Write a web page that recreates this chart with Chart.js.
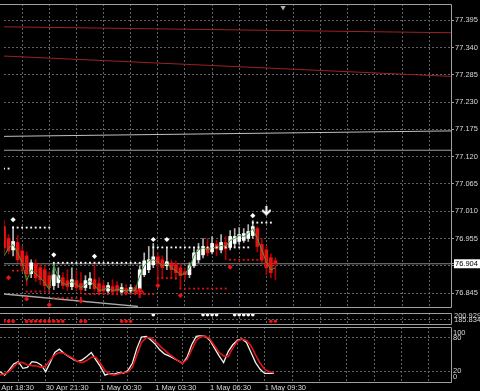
<!DOCTYPE html>
<html>
<head>
<meta charset="utf-8">
<script src="https://cdn.jsdelivr.net/npm/chart.js@4.4.1/dist/chart.umd.min.js"></script>
<style>
  html, body { margin: 0; padding: 0; background: #000; width: 480px; height: 391px; overflow: hidden; }
  canvas { position: absolute; left: 0; }
  #mainChart { top: 0; }
  #dotsChart { top: 309px; }
  #stochChart { top: 326px; }
</style>
</head>
<body>
<canvas id="mainChart" width="480" height="311"></canvas>
<canvas id="dotsChart" width="480" height="19"></canvas>
<canvas id="stochChart" width="480" height="65"></canvas>
<script>
// M15 bars, bar 0 = 30 Apr 18:30; first visible bar is bar 2
const firstBar = 2;
const opens = [
  76.979, 76.955, 76.932, 76.947, 76.930, 76.920, 76.884, 76.904, 76.896, 76.892,
  76.880, 76.860, 76.866, 76.876, 76.870, 76.858, 76.870, 76.864, 76.856, 76.862,
  76.872, 76.864, 76.860, 76.849, 76.858, 76.860, 76.847, 76.854, 76.849, 76.856,
  76.854, 76.882, 76.892, 76.902, 76.918, 76.912, 76.900, 76.906, 76.902, 76.896,
  76.888, 76.882, 76.900, 76.912, 76.922, 76.937, 76.928, 76.943, 76.932, 76.947,
  76.937, 76.945, 76.949, 76.951, 76.955, 76.961, 76.975, 76.943, 76.932, 76.916,
  76.910
];
const highs = [
  76.991, 76.963, 76.979, 76.961, 76.939, 76.928, 76.912, 76.912, 76.904, 76.900,
  76.888, 76.904, 76.896, 76.886, 76.892, 76.896, 76.890, 76.886, 76.880, 76.886,
  76.902, 76.876, 76.870, 76.866, 76.872, 76.868, 76.864, 76.862, 76.862, 76.860,
  76.900, 76.926, 76.939, 76.945, 76.926, 76.920, 76.936, 76.912, 76.910, 76.904,
  76.896, 76.906, 76.936, 76.945, 76.955, 76.955, 76.959, 76.951, 76.963, 76.959,
  76.971, 76.975, 76.977, 76.975, 76.983, 76.991, 76.979, 76.955, 76.939, 76.924,
  76.916
];
const lows = [
  76.926, 76.924, 76.920, 76.906, 76.892, 76.860, 76.876, 76.868, 76.862, 76.852,
  76.849, 76.852, 76.856, 76.854, 76.850, 76.852, 76.850, 76.845, 76.850, 76.854,
  76.849, 76.841, 76.843, 76.845, 76.841, 76.843, 76.841, 76.841, 76.845, 76.843,
  76.849, 76.878, 76.886, 76.896, 76.866, 76.876, 76.892, 76.876, 76.872, 76.856,
  76.872, 76.876, 76.896, 76.906, 76.916, 76.920, 76.924, 76.920, 76.926, 76.912,
  76.932, 76.939, 76.943, 76.947, 76.949, 76.955, 76.928, 76.906, 76.882, 76.876,
  76.872
];
const closes = [
  76.936, 76.930, 76.949, 76.912, 76.900, 76.884, 76.906, 76.876, 76.872, 76.860,
  76.856, 76.882, 76.880, 76.860, 76.858, 76.872, 76.856, 76.852, 76.870, 76.874,
  76.854, 76.847, 76.849, 76.860, 76.847, 76.849, 76.856, 76.845, 76.856, 76.847,
  76.892, 76.910, 76.912, 76.918, 76.904, 76.896, 76.908, 76.892, 76.886, 76.880,
  76.882, 76.900, 76.926, 76.932, 76.939, 76.926, 76.945, 76.934, 76.947, 76.934,
  76.959, 76.959, 76.963, 76.965, 76.969, 76.979, 76.939, 76.912, 76.896, 76.886,
  76.904
];
const maLine = [
  76.920, 76.936, 76.943, 76.926, 76.906, 76.870, 76.892, 76.884, 76.876, 76.866,
  76.852, 76.902, 76.876, 76.864, 76.862, 76.868, 76.862, 76.856, 76.862, 76.870,
  76.860, 76.850, 76.852, 76.856, 76.850, 76.852, 76.852, 76.849, 76.852, 76.850,
  76.880, 76.900, 76.910, 76.912, 76.908, 76.900, 76.904, 76.896, 76.890, 76.882,
  76.884, 76.896, 76.920, 76.932, 76.936, 76.932, 76.937, 76.936, 76.941, 76.939,
  76.951, 76.955, 76.961, 76.959, 76.965, 76.975, 76.955, 76.932, 76.908, 76.892,
  76.896
];
const stochMain = [
  18.8, 12.6, 21.8, 32.8, 37.1, 24.9, 26.7, 37.1, 35.9, 31.0,
  18.8, 35.3, 53.6, 59.7, 52.4, 46.3, 41.4, 37.1, 40.2, 46.3,
  53.6, 40.2, 28.0, 12.6, 15.7, 14.5, 16.9, 15.7, 20.6, 34.0,
  61.6, 81.7, 83.0, 76.9, 68.9, 58.5, 51.2, 47.5, 43.2, 38.9,
  34.0, 45.1, 67.7, 83.0, 84.2, 83.0, 75.6, 61.6, 47.5, 35.3,
  55.4, 67.7, 75.6, 78.1, 72.0, 53.6, 35.3, 23.0, 15.7, 15.7,
  15.7
];
const stochSignal = [
  12.6, 14.5, 18.8, 28.0, 35.9, 35.3, 31.0, 29.8, 29.2, 26.7,
  29.2, 40.2, 49.3, 53.6, 52.4, 47.5, 43.2, 37.1, 35.3, 38.9,
  45.1, 45.1, 34.0, 20.6, 14.5, 12.6, 14.5, 16.9, 18.1, 26.7,
  49.3, 72.0, 80.5, 80.5, 73.8, 65.8, 58.5, 51.2, 45.1, 38.9,
  34.0, 41.4, 58.5, 75.6, 83.0, 83.0, 78.1, 65.8, 53.6, 47.5,
  46.3, 61.6, 73.8, 78.1, 75.6, 65.8, 49.3, 34.0, 23.0, 18.8,
  16.9
];

// fractal markers [bar, price]
const upFractals = [[4, 76.993], [13, 76.922], [22, 76.919], [35, 76.953], [38, 76.953], [57, 77.001]];
const downFractals = [[3, 76.876], [7, 76.833], [12, 76.821], [19, 76.829], [36, 76.860], [41, 76.840], [52, 76.897]];
const sellSignals = [[60, 77.011]];
const buySignals = [[32, 76.846]];
// dotted levels [fromBar, toBar, price]
const resistLevels = [[2, 3, 77.096], [4, 12, 76.977], [13, 32, 76.906], [35, 56, 76.937], [57, 61, 76.987]];
const supportLevels = [[4, 6, 76.890], [7, 12, 76.848], [13, 19, 76.835], [20, 35, 76.843], [36, 40, 76.875], [41, 51, 76.854], [52, 59, 76.912]];
// long lines [price at left edge, price at right edge]
const slowRedA = [77.382, 77.370];
const slowRedB = [77.323, 77.282];
const slowGrey = [77.161, 77.172];
const levelLine = 77.133;
const trendLine = [[2, 76.843], [31.6, 76.818]];
const bidPrice = 76.904;
const shiftBar = 63.7;

// signal window dots (bars)
const upDots = [35, 46, 47, 48, 49, 53, 54, 55, 56, 57];
const downDots = [2, 3, 4, 7, 8, 9, 10, 11, 12, 13, 14, 15, 19, 20, 28, 29, 30, 61, 62];
const dotsLabels = ['200.929', '185.834'];

const priceTicks = [77.395, 77.340, 77.285, 77.230, 77.175, 77.120, 77.065, 77.010, 76.955, 76.900, 76.845];
const stochLabels = ['100', '80', '20', '0'];
const stochLevels = [80, 20];
const timeTicks = [0, 12, 24, 36, 48, 60];
const timeLabels = ['30 Apr 18:30', '30 Apr 21:30', '1 May 00:30', '1 May 03:30', '1 May 06:30', '1 May 09:30'];

const viewStart = 1.99, viewEnd = 100.83;
const textColor = '#d8d8d8';
const gridColor = '#626262';
const frameColor = '#a0a0a0';
const bullBody = '#ffffff', bullWick = '#b4b4b4';
const bearBody = '#ee1111', bearWick = '#b00000';

Chart.defaults.font.family = 'Liberation Sans';
Chart.defaults.font.size = 7.5;

const paneFrame = {
  id: 'paneFrame',
  afterDraw(chart) {
    const { ctx, chartArea: a } = chart;
    ctx.save();
    ctx.strokeStyle = frameColor;
    ctx.lineWidth = 1;
    ctx.beginPath();
    ctx.moveTo(0, Math.round(a.top) + 0.5);
    ctx.lineTo(Math.round(a.right) + 0.5, Math.round(a.top) + 0.5);
    ctx.lineTo(Math.round(a.right) + 0.5, Math.round(a.bottom) + 0.5);
    ctx.lineTo(0, Math.round(a.bottom) + 0.5);
    ctx.stroke();
    ctx.restore();
  }
};

function gridBars() {
  const out = [];
  for (let v = 0; v <= 96; v += 6) out.push({ value: v });
  return out;
}

function timeAxis(showLabels, h) {
  return {
    type: 'linear', min: viewStart, max: viewEnd, offset: false,
    grid: { color: gridColor, offset: false, drawTicks: false },
    border: { display: false, dash: [2, 2] },
    ticks: {
      display: showLabels, autoSkip: false, maxRotation: 0, minRotation: 0, align: 'start', padding: 1,
      color: textColor,
      callback: v => { const k = timeTicks.indexOf(v); return k < 0 ? '' : timeLabels[k]; }
    },
    afterBuildTicks: s => { s.ticks = gridBars(); },
    afterFit: s => { s.height = h; s.paddingLeft = 0; s.paddingRight = 0; }
  };
}

function sideAxis(extra) {
  return Object.assign({
    position: 'right',
    border: { display: false, dash: [2, 2] },
    afterFit: s => { s.width = 29; s.paddingTop = 0; s.paddingBottom = 0; }
  }, extra);
}

const common = {
  responsive: false, animation: false, devicePixelRatio: 1, events: [],
  plugins: { legend: { display: false }, tooltip: { enabled: false } }
};

function arrowImage(color, down) {
  const c = document.createElement('canvas');
  c.width = 9; c.height = 10;
  const g = c.getContext('2d');
  g.strokeStyle = color; g.lineWidth = 2; g.lineCap = 'square';
  g.beginPath();
  if (down) {
    g.moveTo(4.5, 1); g.lineTo(4.5, 8);
    g.moveTo(1, 5); g.lineTo(4.5, 8.5); g.lineTo(8, 5);
  } else {
    g.moveTo(4.5, 9); g.lineTo(4.5, 2);
    g.moveTo(1, 5); g.lineTo(4.5, 1.5); g.lineTo(8, 5);
  }
  g.stroke();
  return c;
}

function levelPoints(levels) {
  const pts = [];
  levels.forEach(([a, b, p]) => { for (let i = a; i <= b; i++) pts.push({ x: i, y: p }); });
  return pts;
}

const isBull = k => closes[k] >= opens[k];
const barX = k => firstBar + k;
const markerSet = (data, style, color, r, rot) => ({
  type: 'line', showLine: false, order: 0,
  data: data.map(([x, y]) => ({ x, y })),
  pointStyle: style, pointRadius: r, pointRotation: rot || 0,
  pointBackgroundColor: color, pointBorderColor: color, pointBorderWidth: 0
});
const longLine = (pts, color, w) => ({
  type: 'line', order: 5, data: pts.map(([x, y]) => ({ x, y })),
  borderColor: color, borderWidth: w, pointRadius: 0, tension: 0
});

new Chart(document.getElementById('mainChart'), {
  type: 'bar',
  plugins: [paneFrame],
  data: {
    datasets: [
      markerSet(upFractals, 'rectRot', '#ffffff', 2.6),
      markerSet(downFractals, 'rectRot', '#ee1111', 2.6),
      markerSet(sellSignals, arrowImage('#ffffff', true), '#ffffff', 4),
      markerSet(buySignals, arrowImage('#ee1111', false), '#ee1111', 4),
      Object.assign(markerSet([], 'rect', '#ffffff', 1.3), { data: levelPoints(resistLevels) }),
      Object.assign(markerSet([], 'rect', '#ee1111', 1.3), { data: levelPoints(supportLevels) }),
      Object.assign(markerSet([[shiftBar, 77.421]], 'triangle', '#b0b0b0', 3, 180), { clip: false }),
      {
        type: 'line', order: 1, data: maLine.map((v, k) => ({ x: barX(k), y: v })),
        borderColor: '#3f9a3a', borderWidth: 1, pointRadius: 0, tension: 0
      },
      {
        type: 'bar', order: 2, grouped: false, barThickness: 3, minBarLength: 1, borderWidth: 0,
        data: opens.map((o, k) => ({ x: barX(k), y: [o, closes[k]] })),
        backgroundColor: c => isBull(c.dataIndex) ? bullBody : bearBody
      },
      {
        type: 'bar', order: 3, grouped: false, barThickness: 1, borderWidth: 0,
        data: lows.map((l, k) => ({ x: barX(k), y: [l, highs[k]] })),
        backgroundColor: c => isBull(c.dataIndex) ? bullWick : bearWick
      },
      longLine([[viewStart, slowRedA[0]], [viewEnd, slowRedA[1]]], '#9a2222', 1),
      longLine([[viewStart, slowRedB[0]], [viewEnd, slowRedB[1]]], '#9a2222', 1),
      longLine([[viewStart, slowGrey[0]], [viewEnd, slowGrey[1]]], '#c0c0c0', 1),
      longLine([[viewStart, levelLine], [viewEnd, levelLine]], '#9c9c9c', 1.2),
      longLine([[viewStart, bidPrice], [viewEnd, bidPrice]], '#8a8a8a', 1),
      longLine(trendLine, '#a8a8a8', 1.4)
    ]
  },
  options: Object.assign({}, common, {
    layout: { padding: { top: 1, bottom: 1, left: 0, right: 0 } },
    scales: {
      x: timeAxis(false, 0),
      y: sideAxis({
        min: 76.8168, max: 77.4280,
        afterBuildTicks: s => { s.ticks = priceTicks.concat([bidPrice]).map(v => ({ value: v })); },
        grid: {
          color: c => c.tick && c.tick.value === bidPrice ? 'rgba(0,0,0,0)' : gridColor,
          drawTicks: true, tickLength: 3, tickColor: frameColor
        },
        ticks: {
          autoSkip: false, padding: 1,
          color: c => c.tick && c.tick.value === bidPrice ? '#000000' : textColor,
          showLabelBackdrop: c => !!(c.tick && c.tick.value === bidPrice),
          backdropColor: '#ffffff',
          backdropPadding: { left: 1, right: 3, top: 0, bottom: 0 },
          callback: v => v.toFixed(3)
        }
      })
    }
  })
});

new Chart(document.getElementById('dotsChart'), {
  type: 'line',
  plugins: [paneFrame],
  data: {
    datasets: [
      { data: upDots.map(x => ({ x, y: 198.6 })), showLine: false, pointRadius: 1.8, pointBorderWidth: 0, pointBackgroundColor: '#ffffff' },
      { data: downDots.map(x => ({ x, y: 189.7 })), showLine: false, pointRadius: 1.8, pointBorderWidth: 0, pointBackgroundColor: '#ee1111' }
    ]
  },
  options: Object.assign({}, common, {
    layout: { padding: { top: 3, bottom: 3, left: 0, right: 0 } },
    scales: {
      x: timeAxis(false, 0),
      y: sideAxis({
        min: 185.834, max: 200.929,
        afterBuildTicks: s => { s.ticks = [{ value: 197.4 }, { value: 191.6 }]; },
        grid: { color: c => c.index === 1 ? gridColor : 'rgba(0,0,0,0)', drawTicks: false },
        ticks: { autoSkip: false, padding: 3, color: textColor, callback: (v, i) => dotsLabels[i] }
      })
    }
  })
});

new Chart(document.getElementById('stochChart'), {
  type: 'line',
  plugins: [paneFrame],
  data: {
    datasets: [
      { data: stochSignal.map((v, k) => ({ x: barX(k), y: v })), borderColor: '#e01515', borderWidth: 1.6, pointRadius: 0, tension: 0 },
      { data: stochMain.map((v, k) => ({ x: barX(k), y: v })), borderColor: '#f2f2f2', borderWidth: 1.3, pointRadius: 0, tension: 0 }
    ]
  },
  options: Object.assign({}, common, {
    layout: { padding: { top: 1, bottom: 0, left: 0, right: 0 } },
    scales: {
      x: timeAxis(true, 9),
      y: sideAxis({
        min: 0, max: 100,
        afterBuildTicks: s => { s.ticks = [{ value: 89.6 }, { value: 80 }, { value: 20 }, { value: 10 }]; },
        grid: { color: c => c.tick && stochLevels.includes(c.tick.value) ? gridColor : 'rgba(0,0,0,0)', drawTicks: false },
        ticks: { autoSkip: false, padding: 2, color: textColor, callback: (v, i) => stochLabels[i] }
      })
    }
  })
});
</script>
</body>
</html>
